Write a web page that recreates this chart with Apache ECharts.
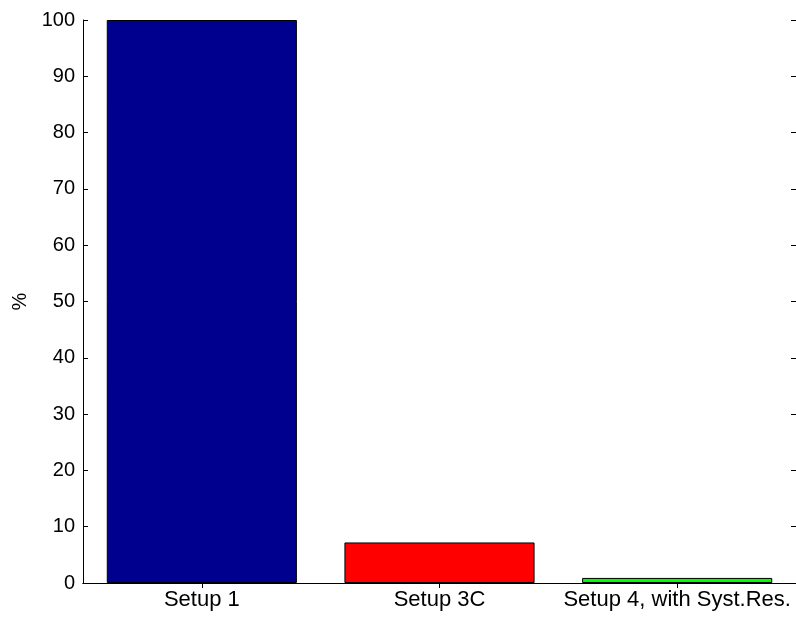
<!DOCTYPE html>
<html>
<head>
<meta charset="utf-8">
<script src="https://cdn.jsdelivr.net/npm/echarts@6/dist/echarts.min.js"></script>
<style>
html,body{margin:0;padding:0;background:#fff;}
#chart{width:796px;height:617px;}
</style>
</head>
<body>
<div id="chart"></div>
<script>
var categories = ['Setup 1', 'Setup 3C', 'Setup 4, with Syst.Res.'];
var values = [100, 7.2, 0.9];
var barColors = ['#00008F', '#FF0000', '#00FF00'];
var yTicks = [0, 10, 20, 30, 40, 50, 60, 70, 80, 90, 100];
var yLabel = '%';

var font = 'Liberation Sans, Arial, Helvetica, sans-serif';
var chart = echarts.init(document.getElementById('chart'), null, {renderer: 'canvas'});
var axisLine = {show: true, lineStyle: {color: '#000', width: 1}};
var tick = {show: true, inside: true, length: 5, lineStyle: {color: '#000', width: 1}};
chart.setOption({
  animation: false,
  backgroundColor: '#fff',
  grid: {left: 83, top: 20, width: 714, height: 563, containLabel: false},
  xAxis: [
    {type: 'category', data: categories, position: 'bottom', boundaryGap: true,
     axisLine: axisLine, axisTick: Object.assign({alignWithLabel: true}, tick),
     axisLabel: {color: '#000', fontFamily: font, fontSize: 22, margin: 6, interval: 0},
     splitLine: {show: false}},
    {type: 'category', data: categories, position: 'top', boundaryGap: true,
     axisLine: axisLine, axisTick: Object.assign({alignWithLabel: true}, tick),
     axisLabel: {show: false}, splitLine: {show: false}}
  ],
  yAxis: [
    {type: 'value', min: yTicks[0], max: yTicks[yTicks.length - 1], interval: 10, position: 'left',
     name: yLabel, nameLocation: 'middle', nameGap: 52, nameRotate: 90,
     nameTextStyle: {color: '#000', fontFamily: font, fontSize: 20},
     axisLine: axisLine, axisTick: tick,
     axisLabel: {color: '#000', fontFamily: font, fontSize: 20, margin: 8},
     splitLine: {show: false}},
    {type: 'value', min: yTicks[0], max: yTicks[yTicks.length - 1], interval: 10, position: 'right',
     axisLine: axisLine, axisTick: tick, axisLabel: {show: false}, splitLine: {show: false}}
  ],
  series: [{
    type: 'bar', xAxisIndex: 0, yAxisIndex: 0, barWidth: '80%',
    data: values.map(function (v, i) {
      return {value: v, itemStyle: {color: barColors[i], borderColor: '#000', borderWidth: 1}};
    })
  }]
});
</script>
</body>
</html>
